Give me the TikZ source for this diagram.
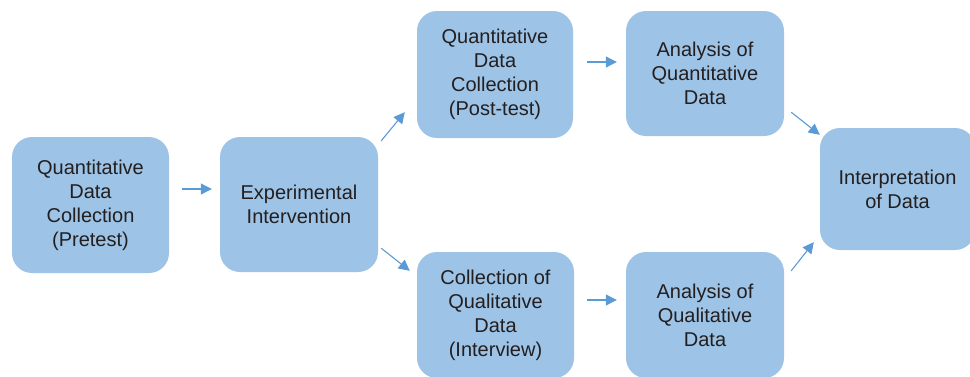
\documentclass[tikz,border=0pt]{standalone}
\usepackage{fontspec}
\setmainfont{Liberation Sans}
\usetikzlibrary{arrows.meta}
\definecolor{boxblue}{HTML}{9DC3E6}
\definecolor{arrowblue}{HTML}{5B9BD5}
\definecolor{textgray}{HTML}{231F20}

\begin{document}
\begin{tikzpicture}[x=1pt, y=-1pt,
    stage/.style={fill=boxblue, rounded corners=20pt, inner sep=0pt,
      minimum width=157pt, minimum height=126pt, align=center,
      text=textgray, font=\fontsize{20}{24}\selectfont},
    flow/.style={draw=arrowblue, line width=1.1pt,
      -{Triangle[length=11pt,width=11pt]}}]
  \useasboundingbox (0,0) rectangle (970,376);
  \clip (0,0) rectangle (970,376);

  % Pretest
  \node[stage, minimum height=136pt] (pretest) at (90.5,205) {Quantitative\\Data\\Collection\\(Pretest)};
  % Intervention
  \node[stage, minimum width=158pt, minimum height=135pt] (interv) at (299,204.5) {Experimental\\Intervention};

  % Quantitative
  \node[stage, minimum width=156pt, minimum height=127pt] (quantcoll) at (495,74.5) {Quantitative\\Data\\Collection\\(Post-test)};
  \node[stage, minimum width=158pt, minimum height=125pt] (quantanal) at (705,73.5) {Analysis of\\Quantitative\\Data};

  % Qualitative
  \node[stage] (qualcoll) at (495.5,315) {Collection of\\Qualitative\\Data\\(Interview)};
  \node[stage, minimum width=158pt] (qualanal) at (705,315) {Analysis of\\Qualitative\\Data};

  % Interpretation
  \node[stage, minimum width=155pt, minimum height=122pt] (interp) at (897.5,189) {Interpretation\\of Data};

  % arrows
  \draw[flow] ([shift={(13,-16)}]pretest.east) -- ([shift={(-8,-15.5)}]interv.west);
  \draw[flow] ([shift={(3,4)}]interv.north east) -- ([shift={(-12,-26)}]quantcoll.south west);
  \draw[flow] ([shift={(3,-24)}]interv.south east) -- ([shift={(-7,19)}]qualcoll.north west);
  \draw[flow] ([shift={(14,-12.5)}]quantcoll.east) -- ([shift={(-9,-11.5)}]quantanal.west);
  \draw[flow] ([shift={(13,-15)}]qualcoll.east) -- ([shift={(-9,-15)}]qualanal.west);
  \draw[flow] ([shift={(7,-24)}]quantanal.south east) -- ([shift={(0,7)}]interp.north west);
  \draw[flow] ([shift={(7,19)}]qualanal.north east) -- ([shift={(-6,-8)}]interp.south west);
\end{tikzpicture}
\end{document}
